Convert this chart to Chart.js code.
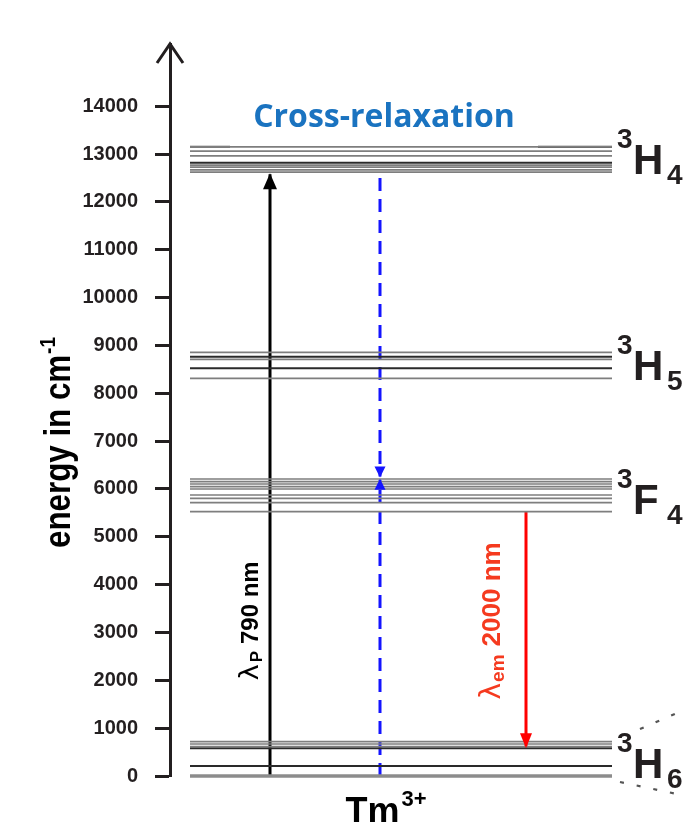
<!DOCTYPE html>
<html>
<head>
<meta charset="utf-8">
<script src="https://cdn.jsdelivr.net/npm/chart.js@4.4.1/dist/chart.umd.min.js"></script>
<style>
  html, body { margin: 0; padding: 0; background: #fff; }
  #wrap { width: 694px; height: 822px; }
</style>
</head>
<body>
<div id="wrap"><canvas id="levelChart"></canvas></div>
<script>
// Tm3+ Stark sublevels in cm-1
const h4Levels = [13150, 13060, 12960, 12820, 12770, 12725, 12670, 12620];
const h5Levels = [8856, 8764, 8710, 8521, 8312];
const f4Levels = [6208, 6151, 6103, 6047, 5999, 5873, 5804, 5712, 5524];
const h6Levels = [717, 669, 612, 579, 209, 0];
const darkLevels = [12820, 8764, 8521, 579, 209];

const termLetters = ['H', 'H', 'F', 'H'];
const termJ = ['4', '5', '4', '6'];
const energyTicks = [0, 1000, 2000, 3000, 4000, 5000, 6000, 7000, 8000, 9000, 10000, 11000, 12000, 13000, 14000];

// transitions (start, end) in cm-1
const pumpArrow = [0, 12580];
const crossDown = [12500, 6260];
const crossUp = [0, 6190];
const emissionArrow = [5524, 600];

// little dashed ring round the 3H6 label
const ringTopX = [94, 101];
const ringTopY = [980, 1300];
const ringBottomX = [90, 101.4];
const ringBottomY = [-125, -376];

// layout (x axis is an arbitrary 0..100 width)
const levelStart = 4, levelEnd = 88.4;
const pumpX = 20, crossX = 42, emissionX = 71.2;

const axisColor = '#231f20';
const sans = '"Liberation Sans", Arial, sans-serif';

let datasets = [];
function levelLine(e, x1, x2, color, width) {
    datasets.push({
        data: [{x: x1, y: e}, {x: x2, y: e}],
        borderColor: color, borderWidth: width
    });
}
[h4Levels, h5Levels, f4Levels, h6Levels].forEach(function(group) {
    group.forEach(function(e) {
        if (e === 0) levelLine(e, levelStart, levelEnd, '#8c8c8c', 3.5);
        else if (darkLevels.includes(e)) levelLine(e, levelStart, levelEnd, '#2a2a2a', 2);
        else levelLine(e, levelStart, levelEnd, '#7e7e7e', 1.7);
    });
});
// darker pieces at the ends of the top 3H4 line
levelLine(h4Levels[0], levelStart, 12, '#555', 2);
levelLine(h4Levels[0], 73.6, levelEnd, '#444', 2.2);

function arrow(x, pair, color, dash, head) {
    datasets.push({
        data: [{x: x, y: pair[0]}, {x: x, y: pair[1]}],
        borderColor: color, borderWidth: 3, borderDash: dash,
        arrowHead: head
    });
}
arrow(pumpX, pumpArrow, '#000', [], [14, 15]);
arrow(crossX, crossDown, '#1414ff', [13, 8], [11, 10]);
arrow(crossX, crossUp, '#1414ff', [13, 8], [11, 10]);
arrow(emissionX, emissionArrow, '#ff0000', [], [12, 14]);

function ring(xs, ys, dash) {
    datasets.push({
        data: [{x: xs[0], y: ys[0]}, {x: xs[1], y: ys[1]}],
        borderColor: '#555', borderWidth: 2.2, borderDash: dash
    });
}
ring(ringTopX, ringTopY, [4, 13]);
ring(ringBottomX, ringBottomY, [4, 13]);

datasets.forEach(function(d) {
    d.pointRadius = 0;
    d.clip = false;
    d.fill = false;
    d.borderCapStyle = 'butt';
});

function drawParts(ctx, parts, x, y, angle, align, sx) {
    ctx.save();
    ctx.translate(x, y);
    ctx.rotate(angle);
    ctx.scale(sx || 1, 1);
    let total = 0;
    parts.forEach(function(p) {
        ctx.font = p.font;
        p.w = ctx.measureText(p.t).width;
        total += p.w + (p.gap || 0);
    });
    let cx = align === 'center' ? -total / 2 : 0;
    ctx.textAlign = 'left';
    ctx.textBaseline = 'alphabetic';
    parts.forEach(function(p) {
        ctx.font = p.font;
        ctx.fillStyle = p.color;
        cx += (p.gap || 0);
        ctx.fillText(p.t, cx, p.dy || 0);
        cx += p.w;
    });
    ctx.restore();
}

const decorations = {
    id: 'decorations',
    afterDatasetsDraw(chart) {
        const ctx = chart.ctx;
        const xs = chart.scales.x, ys = chart.scales.y;
        const area = chart.chartArea;

        // arrowheads at the end of each transition
        chart.data.datasets.forEach(function(d, i) {
            if (!d.arrowHead) return;
            const pts = chart.getDatasetMeta(i).data;
            const a = pts[pts.length - 2], b = pts[pts.length - 1];
            const ang = Math.atan2(b.y - a.y, b.x - a.x);
            const w = d.arrowHead[0] / 2, l = d.arrowHead[1];
            ctx.save();
            ctx.translate(b.x, b.y);
            ctx.rotate(ang);
            ctx.fillStyle = d.borderColor;
            ctx.beginPath();
            ctx.moveTo(1, 0);
            ctx.lineTo(-l, -w);
            ctx.lineTo(-l, w);
            ctx.closePath();
            ctx.fill();
            ctx.restore();
        });

        // open arrow tip of the energy axis
        ctx.save();
        ctx.strokeStyle = axisColor;
        ctx.lineWidth = 3;
        ctx.lineJoin = 'miter';
        ctx.beginPath();
        ctx.moveTo(area.left - 13, area.top + 19);
        ctx.lineTo(area.left, area.top);
        ctx.lineTo(area.left + 13, area.top + 19);
        ctx.stroke();
        ctx.restore();

        // term symbols
        const groups = [h4Levels, h5Levels, f4Levels, h6Levels];
        const lx = xs.getPixelForValue(levelEnd);
        groups.forEach(function(g, k) {
            const base = ys.getPixelForValue(Math.min.apply(null, g)) + 2;
            drawParts(ctx, [{t: '3', font: 'bold 28px ' + sans, color: '#231f20', dy: -26}], lx + 5, base, 0);
            drawParts(ctx, [{t: termLetters[k], font: 'bold 42px ' + sans, color: '#231f20'}], lx + 21, base, 0);
            drawParts(ctx, [{t: termJ[k], font: 'bold 28px ' + sans, color: '#231f20', dy: 10}], lx + 55, base, 0);
        });

        // title of the cross-relaxation column
        drawParts(ctx, [{t: 'Cross-relaxation', font: 'bold 32px "Open Sans", sans-serif', color: '#1a73c0'}],
            xs.getPixelForValue(crossX) + 4, 127, 0, 'center');

        // transition labels, written upwards
        drawParts(ctx, [
            {t: 'λ', font: '27px "DejaVu Sans", sans-serif', color: '#000'},
            {t: 'P', font: 'bold 17px ' + sans, color: '#000', dy: 4, gap: 2},
            {t: '790 nm', font: 'bold 24px ' + sans, color: '#000', gap: 7}
        ], xs.getPixelForValue(pumpX) - 12, ys.getPixelForValue(2000), -Math.PI / 2);
        drawParts(ctx, [
            {t: 'λ', font: '28px "DejaVu Sans", sans-serif', color: '#f53a1f'},
            {t: 'em', font: 'bold 19px ' + sans, color: '#f53a1f', dy: 4, gap: 1},
            {t: '2000 nm', font: 'bold 26px ' + sans, color: '#f53a1f', gap: 8}
        ], xs.getPixelForValue(emissionX) - 26, ys.getPixelForValue(1600), -Math.PI / 2);

        // axis title
        drawParts(ctx, [
            {t: 'energy in cm', font: 'bold 36px ' + sans, color: '#000'},
            {t: '-1', font: 'bold 22px ' + sans, color: '#000', dy: -15, gap: 1}
        ], 70, 548, -Math.PI / 2, 'left', 0.87);

        // ion name under the levels
        drawParts(ctx, [
            {t: 'Tm', font: 'bold 36px ' + sans, color: '#000'},
            {t: '3+', font: 'bold 22px ' + sans, color: '#000', dy: -17, gap: 2}
        ], xs.getPixelForValue(crossX) + 6, 823, 0, 'center');
    }
};

new Chart(document.getElementById('levelChart'), {
    type: 'line',
    data: { datasets: datasets },
    options: {
        responsive: true,
        maintainAspectRatio: false,
        animation: false,
        layout: { padding: { top: 44, bottom: 46, left: 0, right: 24 } },
        plugins: { legend: { display: false }, tooltip: { enabled: false } },
        events: [],
        scales: {
            x: { type: 'linear', min: 0, max: 100, display: false },
            y: {
                type: 'linear', min: 0, max: 15300,
                afterBuildTicks: function(scale) {
                    scale.ticks = energyTicks.map(v => ({ value: v }));
                },
                afterFit: function(scale) { scale.width = 170; },
                border: { display: true, color: axisColor, width: 3 },
                grid: { drawOnChartArea: false, drawTicks: true, tickLength: 15, tickWidth: 3, tickColor: axisColor },
                ticks: {
                    padding: 17,
                    color: axisColor,
                    font: { family: sans, size: 20, weight: 'bold' },
                    callback: v => String(v)
                }
            }
        }
    },
    plugins: [decorations]
});
</script>
</body>
</html>
